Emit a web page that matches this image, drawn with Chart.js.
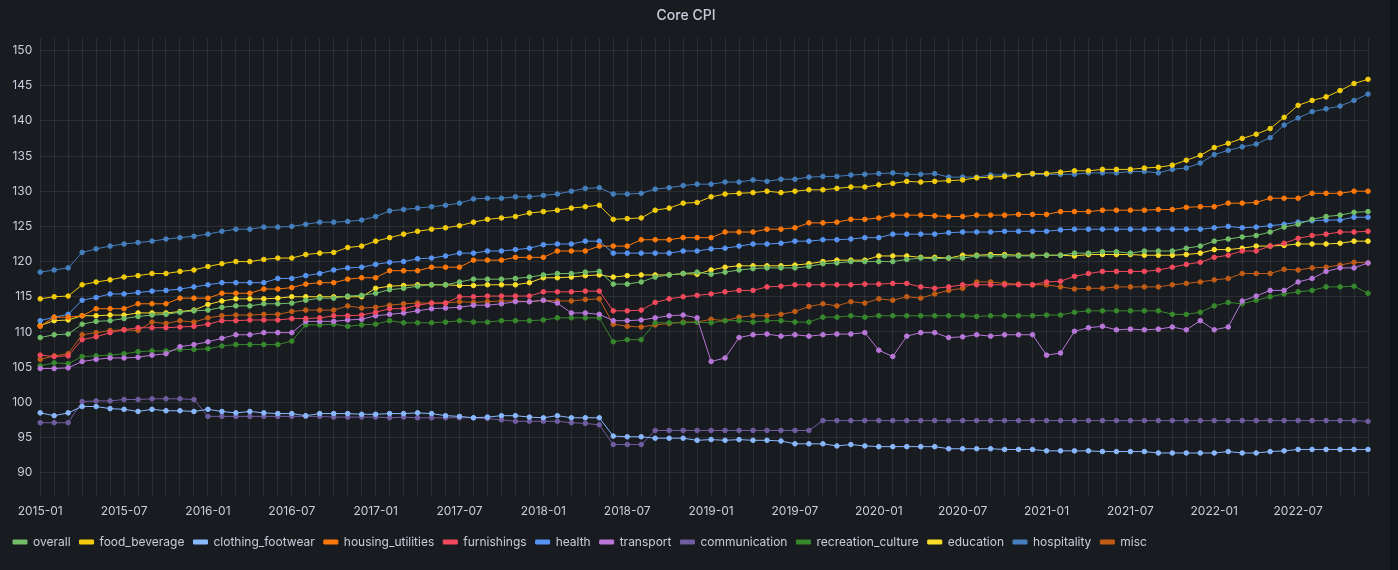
<!DOCTYPE html>
<html><head><meta charset="utf-8">
<script src="https://cdn.jsdelivr.net/npm/chart.js@4"></script>
<style>
html,body{margin:0;padding:0;background:#111217;}
#wrap{position:absolute;left:0;top:0;width:1390px;height:570px;background:#181b1f;}
canvas{display:block;}
</style></head><body>
<div id="wrap"><canvas id="c" width="1390" height="570"></canvas></div>
<script>
// categories: months 2015-01 .. 2022-12
const months = [];
for (let y = 2015; y <= 2022; y++) for (let m = 1; m <= 12; m++) months.push(y + '-' + String(m).padStart(2, '0'));

const overall = [109.2,109.6,109.7,111.1,111.5,111.6,111.9,112.2,112.4,112.5,112.8,113.0,113.1,113.5,113.7,113.7,114.0,114.0,114.1,114.5,114.8,114.8,115.1,115.2,115.5,116.0,116.2,116.5,116.7,116.7,117.1,117.5,
117.5,117.5,117.6,117.8,118.1,118.3,118.3,118.5,118.6,116.8,116.8,117.1,117.8,118.1,118.3,118.5,118.2,118.5,118.8,119.0,119.1,119.1,119.1,119.3,119.7,119.8,120.0,120.0,120.0,120.0,120.3,120.5,120.4,
120.5,120.5,120.8,120.8,120.8,120.8,120.8,120.9,120.9,121.2,121.2,121.4,121.4,121.2,121.5,121.5,121.5,121.9,122.2,122.9,123.2,123.5,123.7,124.2,124.9,125.3,126.0,126.4,126.6,127.0,127.1];
const food_beverage = [114.7,115.0,115.1,116.7,117.1,117.4,117.8,118.0,118.3,118.3,118.6,118.8,119.3,119.7,120.0,120.0,120.3,120.5,120.5,121.0,121.2,121.3,122.0,122.2,122.9,123.4,123.9,124.3,124.6,124.8,125.1,125.6,
126.0,126.2,126.4,126.9,127.1,127.3,127.6,127.8,128.0,126.0,126.1,126.2,127.3,127.6,128.3,128.4,129.2,129.6,129.7,129.8,130.0,129.8,130.0,130.2,130.2,130.4,130.6,130.6,130.9,131.1,131.4,131.3,131.4,
131.5,131.6,131.9,132.0,132.1,132.3,132.5,132.5,132.7,132.9,132.9,133.1,133.1,133.1,133.3,133.4,133.7,134.4,135.1,136.2,136.8,137.5,138.1,138.9,140.5,142.2,142.9,143.4,144.3,145.3,145.9];
const clothing_footwear = [98.5,98.1,98.5,99.4,99.4,99.1,99.0,98.7,99.0,98.8,98.8,98.7,99.0,98.7,98.5,98.7,98.5,98.4,98.4,98.1,98.4,98.4,98.4,98.3,98.3,98.4,98.4,98.5,98.4,98.1,98.0,97.8,
97.9,98.1,98.1,97.9,97.8,98.1,97.8,97.8,97.8,95.2,95.1,95.1,94.9,94.9,94.9,94.6,94.7,94.6,94.7,94.6,94.6,94.5,94.1,94.1,94.1,93.8,94.0,93.8,93.7,93.7,93.7,93.7,93.7,
93.4,93.4,93.4,93.4,93.3,93.3,93.3,93.1,93.1,93.1,93.1,93.0,93.0,93.0,93.0,92.8,92.8,92.8,92.8,92.8,93.0,92.8,92.8,93.0,93.1,93.3,93.3,93.3,93.3,93.3,93.3];
const housing_utilities = [110.8,112.1,112.1,112.3,113.3,113.3,113.3,114.0,114.0,114.0,114.8,114.8,114.8,115.5,115.5,115.5,116.1,116.1,116.3,116.8,117.0,117.0,117.5,117.7,117.7,118.7,118.7,118.7,119.2,119.2,119.2,120.2,
120.2,120.2,120.6,120.6,120.6,121.5,121.5,121.5,122.2,122.2,122.2,123.1,123.1,123.1,123.4,123.4,123.4,124.2,124.2,124.2,124.6,124.6,124.8,125.5,125.5,125.6,126.0,126.0,126.2,126.6,126.6,126.6,126.5,
126.4,126.4,126.6,126.6,126.6,126.7,126.7,126.7,127.1,127.1,127.1,127.3,127.3,127.3,127.3,127.4,127.4,127.7,127.8,127.8,128.3,128.3,128.4,129.0,129.0,129.0,129.7,129.7,129.7,130.0,130.0];
const furnishings = [106.7,106.5,106.6,108.9,109.3,109.9,110.3,110.6,110.6,110.6,110.7,110.8,111.1,111.6,111.6,111.7,111.7,111.7,111.9,111.9,112.0,112.3,112.3,112.4,112.8,113.3,113.3,113.8,114.1,114.1,115.0,115.0,
115.1,115.1,115.1,115.1,115.7,115.7,115.7,115.8,115.8,113.0,113.0,113.1,114.2,114.7,115.0,115.2,115.4,115.7,115.9,115.9,116.4,116.5,116.7,116.7,116.7,116.7,116.7,116.8,116.8,116.9,116.9,116.4,116.2,
116.4,116.7,116.7,116.7,116.7,116.7,116.7,117.1,117.2,117.9,118.3,118.6,118.6,118.6,118.6,118.8,119.2,119.6,119.9,120.6,120.9,121.5,121.5,122.2,122.6,123.3,123.7,123.9,124.2,124.2,124.3];
const health = [111.6,112.1,112.5,114.5,114.9,115.4,115.4,115.6,115.8,115.9,116.1,116.4,116.7,117.0,117.0,117.0,117.0,117.6,117.6,118.0,118.3,118.8,119.1,119.2,119.6,119.9,120.0,120.4,120.5,120.8,121.2,121.2,
121.5,121.5,121.7,121.9,122.4,122.5,122.5,122.9,122.9,121.2,121.2,121.2,121.2,121.2,121.5,121.5,121.8,121.9,122.2,122.5,122.5,122.6,122.9,122.9,123.1,123.1,123.2,123.4,123.4,123.9,123.9,123.9,123.9,
124.1,124.2,124.2,124.2,124.3,124.3,124.3,124.3,124.5,124.6,124.6,124.6,124.6,124.6,124.6,124.6,124.6,124.6,124.6,124.8,125.0,124.8,124.9,125.1,125.3,125.6,125.8,125.9,125.9,126.3,126.3];
const transport = [104.8,104.8,104.9,105.8,106.1,106.3,106.3,106.4,106.7,106.9,107.9,108.2,108.6,109.1,109.6,109.6,109.9,109.9,109.9,111.5,111.5,111.5,111.7,111.8,112.3,112.5,112.7,113.0,113.3,113.4,113.5,113.8,
113.8,114.0,114.3,114.3,114.5,114.1,112.7,112.7,112.5,111.6,111.6,111.7,112.0,112.3,112.4,112.0,105.8,106.3,109.2,109.6,109.7,109.4,109.6,109.4,109.6,109.7,109.7,109.9,107.4,106.5,109.4,109.9,109.9,
109.2,109.3,109.6,109.4,109.6,109.6,109.6,106.7,107.0,110.1,110.6,110.8,110.3,110.4,110.3,110.4,110.7,110.3,111.6,110.3,110.7,114.4,115.1,115.9,115.9,117.1,117.6,118.6,119.1,119.1,119.8];
const communication = [97.1,97.1,97.1,100.1,100.2,100.2,100.4,100.4,100.5,100.5,100.5,100.4,98.0,98.0,98.0,98.0,98.0,98.0,98.0,98.0,98.0,97.9,97.9,97.9,97.9,97.8,97.9,97.8,97.8,97.8,97.8,97.8,
97.7,97.5,97.3,97.3,97.3,97.3,97.1,97.0,96.8,94.0,94.0,94.0,96.0,96.0,96.0,96.0,96.0,96.0,96.0,96.0,96.0,96.0,96.0,96.0,97.4,97.4,97.4,97.4,97.4,97.4,97.4,97.4,97.4,
97.4,97.4,97.4,97.4,97.4,97.4,97.4,97.4,97.4,97.4,97.4,97.4,97.4,97.4,97.4,97.4,97.4,97.4,97.4,97.4,97.4,97.4,97.4,97.4,97.4,97.4,97.4,97.4,97.4,97.4,97.3];
const recreation_culture = [105.2,105.6,105.5,106.5,106.6,106.7,106.9,107.2,107.3,107.3,107.5,107.5,107.6,108.0,108.2,108.2,108.2,108.2,108.7,111.0,111.0,111.1,110.8,111.0,111.1,111.6,111.3,111.3,111.3,111.4,111.6,111.4,
111.4,111.6,111.6,111.6,111.7,112.0,112.0,112.0,112.0,108.6,108.9,108.9,111.3,111.3,111.3,111.4,111.3,111.6,111.6,111.4,111.6,111.6,111.4,111.4,112.1,112.1,112.3,112.1,112.3,112.3,112.3,112.3,112.3,
112.3,112.3,112.2,112.3,112.3,112.3,112.3,112.4,112.4,112.8,113.0,113.0,113.0,113.0,113.0,113.0,112.5,112.5,112.8,113.7,114.2,114.0,114.5,115.0,115.4,115.7,115.9,116.4,116.4,116.5,115.5];
const education = [110.9,111.6,111.7,112.3,112.3,112.4,112.4,112.7,112.7,112.7,112.9,113.1,113.9,114.4,114.7,114.7,114.7,114.8,115.0,115.0,115.0,115.0,115.0,115.0,116.2,116.5,116.6,116.7,116.7,116.7,116.6,116.6,
116.7,116.7,116.7,117.0,117.7,117.7,117.8,118.0,118.1,117.8,118.0,118.1,118.1,118.1,118.3,118.2,118.8,119.2,119.4,119.4,119.4,119.4,119.5,119.7,120.0,120.2,120.2,120.2,120.8,120.8,120.8,120.6,120.6,
120.5,120.9,120.9,121.0,121.0,120.9,120.9,120.9,120.9,120.8,121.0,121.0,121.0,121.0,120.9,120.9,120.9,121.0,121.2,121.7,121.7,121.9,122.2,122.2,122.3,122.5,122.5,122.5,122.6,122.9,122.9];
const hospitality = [118.5,118.8,119.1,121.3,121.8,122.2,122.5,122.7,122.9,123.2,123.4,123.6,123.9,124.3,124.6,124.6,124.9,124.9,125.0,125.3,125.6,125.6,125.7,125.9,126.4,127.2,127.4,127.6,127.8,128.0,128.3,128.9,
129.0,129.0,129.2,129.2,129.4,129.6,130.0,130.4,130.5,129.6,129.6,129.7,130.3,130.5,130.8,131.0,131.0,131.3,131.3,131.6,131.4,131.7,131.7,132.0,132.1,132.1,132.3,132.4,132.5,132.6,132.4,132.4,132.5,
132.0,132.0,132.0,132.3,132.3,132.3,132.4,132.4,132.4,132.4,132.6,132.6,132.6,132.8,132.8,132.6,133.1,133.3,134.0,135.2,135.8,136.3,136.7,137.6,139.4,140.4,141.3,141.7,142.1,142.9,143.8];
const misc = [106.1,106.6,106.9,109.6,109.9,110.2,110.3,110.2,111.4,111.2,111.6,111.4,112.0,112.3,112.4,112.4,112.5,112.5,112.9,113.1,113.1,113.1,113.7,113.4,113.5,113.8,114.0,114.1,114.1,114.1,114.3,114.2,
114.3,114.4,114.4,114.3,114.5,114.4,114.4,114.6,114.7,111.1,110.8,110.7,111.0,111.2,111.4,111.4,111.8,111.6,112.1,112.3,112.3,112.5,112.9,113.6,114.0,113.7,114.3,114.1,114.7,114.5,115.0,114.8,115.4,
115.9,116.2,117.1,117.1,116.9,116.8,116.7,116.7,116.4,116.1,116.2,116.2,116.4,116.4,116.4,116.4,116.7,116.9,117.1,117.4,117.6,118.3,118.3,118.3,118.9,118.8,119.1,119.2,119.5,119.9,119.8];

const seriesNames = ['overall','food_beverage','clothing_footwear','housing_utilities','furnishings','health','transport','communication','recreation_culture','education','hospitality','misc'];
const seriesData = [overall,food_beverage,clothing_footwear,housing_utilities,furnishings,health,transport,communication,recreation_culture,education,hospitality,misc];
const seriesColors = ['#73BF69','#F2CC0C','#8AB8FF','#FF780A','#F2495C','#5794F2','#B877D9','#705DA0','#37872D','#FADE2A','#447EBC','#C15C17'];
const yTicks = [90,95,100,105,110,115,120,125,130,135,140,145,150];

const txt = '#ccccdc';
const grid = 'rgba(204,204,220,0.10)';
new Chart(document.getElementById('c'), {
  type: 'line',
  data: {
    labels: months,
    datasets: seriesNames.map((n, i) => ({
      label: n, data: seriesData[i], borderColor: seriesColors[i], backgroundColor: seriesColors[i],
      borderWidth: 1, pointRadius: 2.3, pointHoverRadius: 3, tension: 0
    }))
  },
  options: {
    responsive: false, animation: false, devicePixelRatio: 1,
    layout: { padding: { left: 4, right: 22, top: 0, bottom: 12 } },
    plugins: {
      title: { display: true, text: 'Core CPI', color: txt, font: { family: 'Inter', size: 14, weight: '500' }, padding: { top: 7, bottom: 14 } },
      legend: { position: 'bottom', align: 'start',
        labels: { color: txt, boxWidth: 14, boxHeight: 4, font: { family: 'Inter', size: 12 }, padding: 9 } },
      tooltip: { enabled: false }
    },
    scales: {
      x: { type: 'category', offset: false,
        grid: { color: grid, drawTicks: false }, border: { display: false },
        ticks: { color: txt, autoSkip: false, maxRotation: 0, padding: 8, font: { family: 'Inter', size: 12 },
          callback: (v, i) => i % 6 === 0 ? months[i] : '' } },
      y: { min: 86.6, max: 151.8,
        afterBuildTicks: ax => { ax.ticks = yTicks.map(v => ({ value: v })); },
        grid: { color: grid, drawTicks: false }, border: { display: false },
        ticks: { color: txt, padding: 8, font: { family: 'Inter', size: 12 } } }
    }
  }
});
</script>
</body></html>
